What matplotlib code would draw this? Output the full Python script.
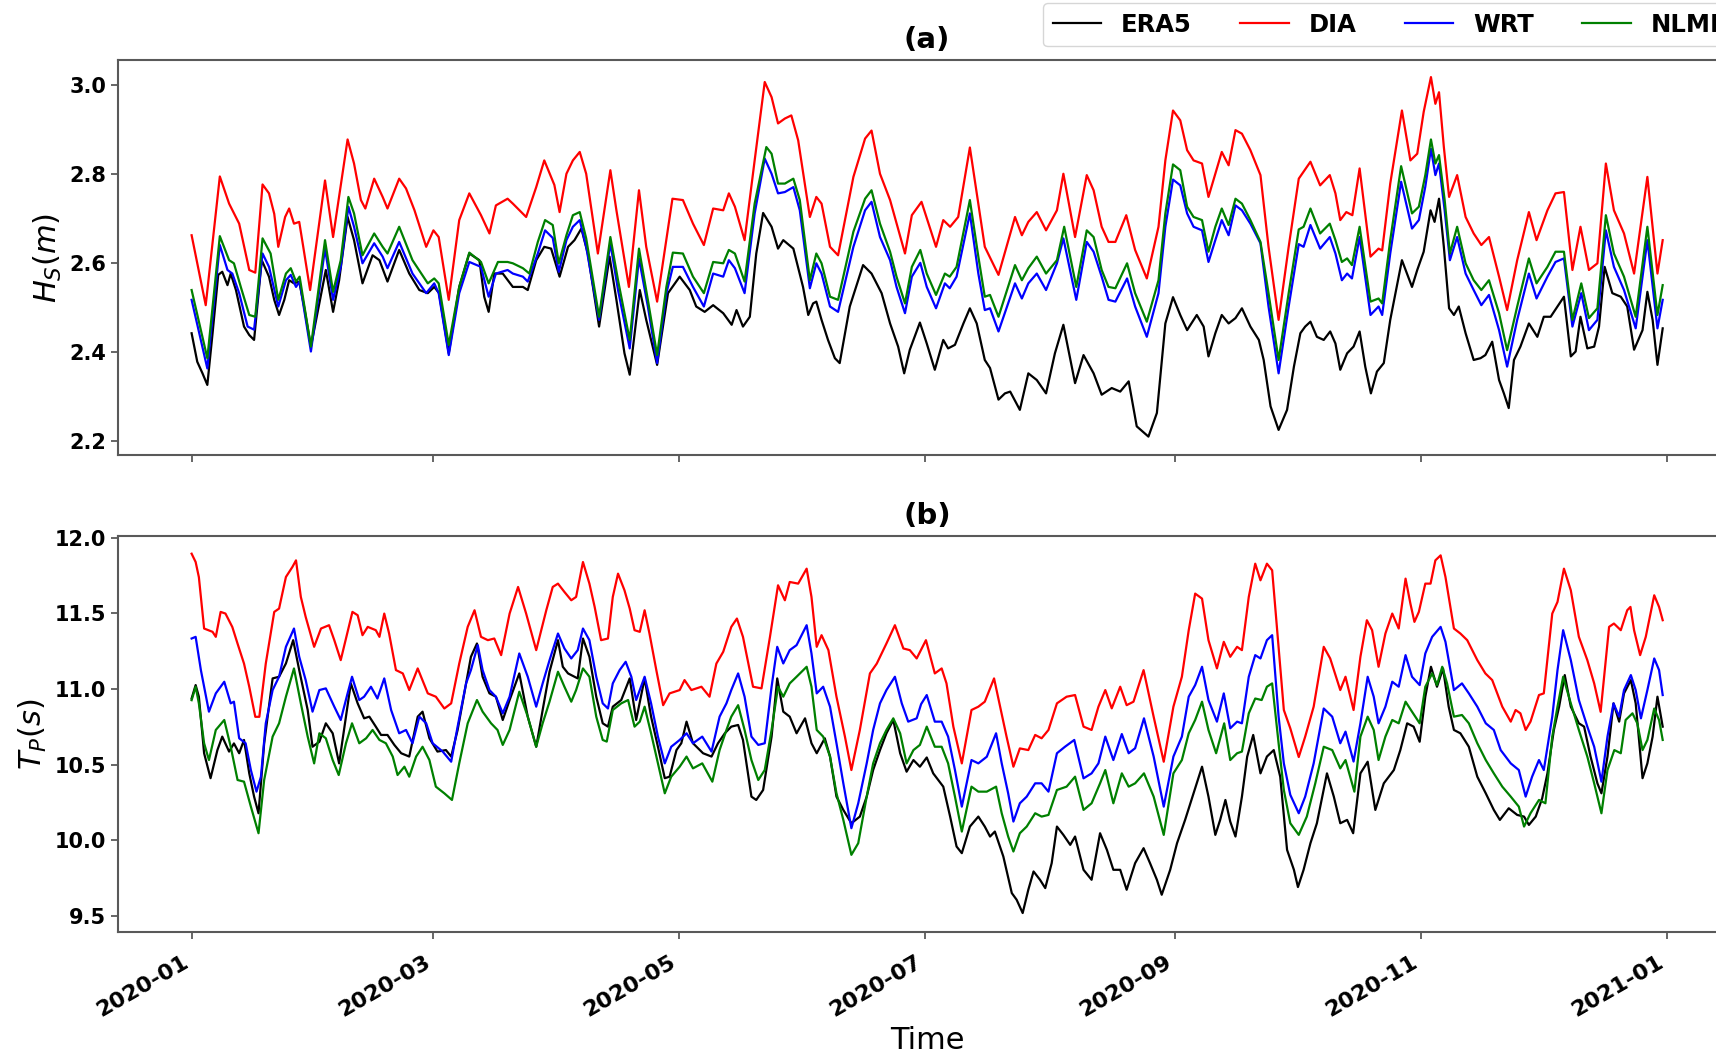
import matplotlib
matplotlib.use("Agg")
import matplotlib.pyplot as plt
import matplotlib.dates as mdates
import numpy as np
import pandas as pd

START = pd.Timestamp("2020-01-01")

# (day offset from 2020-01-01, value) pairs for each source

# significant wave height, m
hs_era5 = [
    (0, 2.442), (1.4, 2.378), (2.7, 2.352), (3.9, 2.326), (5.2, 2.442), (6.6, 2.573), (7.6, 2.58),
    (8.9, 2.55), (9.7, 2.576), (11, 2.539), (13, 2.457), (14.3, 2.438), (15.5, 2.427), (17.4, 2.606),
    (19.2, 2.569), (20.5, 2.517), (21.7, 2.483), (23, 2.517), (24.2, 2.561), (25.4, 2.554),
    (26.7, 2.558), (27.9, 2.502), (29.6, 2.412), (33.3, 2.584), (35.1, 2.49), (36.6, 2.561),
    (38.7, 2.703), (40.3, 2.651), (42.4, 2.554), (44.9, 2.617), (46.6, 2.606), (48.6, 2.558),
    (51.5, 2.629), (54, 2.576), (56.5, 2.539), (58.6, 2.532), (60.2, 2.546), (61.4, 2.532),
    (63.8, 2.397), (66.4, 2.546), (68.9, 2.621), (71.4, 2.606), (72.6, 2.524), (73.7, 2.49),
    (75.1, 2.576), (77.2, 2.576), (79.7, 2.546), (82.2, 2.546), (83.4, 2.539), (85.5, 2.606),
    (87.5, 2.636), (89.2, 2.632), (91.3, 2.569), (93.4, 2.636), (95, 2.651), (96.7, 2.677),
    (98.3, 2.621), (101.1, 2.457), (103.7, 2.614), (105.4, 2.517), (107.4, 2.397), (108.7, 2.349),
    (111.2, 2.539), (112.8, 2.472), (115.5, 2.371), (118.2, 2.532), (121.1, 2.569), (123.6, 2.539),
    (125.2, 2.502), (127.3, 2.49), (129.4, 2.505), (131.9, 2.487), (134, 2.461), (135.2, 2.494),
    (136.8, 2.457), (138.5, 2.479), (140.1, 2.621), (141.8, 2.712), (143.9, 2.681), (145.5, 2.632),
    (146.8, 2.651), (149.3, 2.632), (151.7, 2.546), (153, 2.483), (154.2, 2.509), (155, 2.513),
    (156.3, 2.472), (157.9, 2.427), (159.6, 2.386), (160.8, 2.375), (163.3, 2.502), (166.6, 2.595),
    (168.7, 2.576), (171.2, 2.532), (173.3, 2.464), (175.3, 2.412), (176.8, 2.352), (178.2, 2.405),
    (180.7, 2.466), (182.4, 2.419), (184.4, 2.36), (186.5, 2.427), (187.7, 2.408), (189.4, 2.416),
    (191.5, 2.464), (193.1, 2.498), (194.8, 2.464), (196.8, 2.382), (198.1, 2.364), (200.2, 2.293),
    (201.8, 2.307), (203.1, 2.311), (205.5, 2.27), (207.6, 2.352), (209.7, 2.337), (212, 2.307),
    (214.2, 2.397), (216.3, 2.461), (219.2, 2.33), (221.3, 2.393), (223.8, 2.352), (225.8, 2.304),
    (228.3, 2.319), (230.4, 2.311), (232.5, 2.334), (234.5, 2.233), (237.4, 2.21), (239.5, 2.263),
    (241.6, 2.464), (243.5, 2.523), (245.3, 2.483), (247, 2.449), (249.4, 2.483), (251.1, 2.457),
    (252.3, 2.39), (254, 2.442), (255.6, 2.483), (257.3, 2.464), (259, 2.476), (260.6, 2.498),
    (262.7, 2.457), (264.8, 2.427), (266, 2.382), (267.7, 2.278), (269.7, 2.225), (271.8, 2.27),
    (273.5, 2.367), (275.1, 2.442), (276.3, 2.457), (277.6, 2.468), (279.2, 2.434), (280.9, 2.427),
    (282.5, 2.446), (283.8, 2.419), (285, 2.36), (286.7, 2.397), (288.3, 2.412), (289.8, 2.446),
    (291.2, 2.367), (292.6, 2.307), (294.1, 2.356), (295.8, 2.375), (297.4, 2.472), (300.3, 2.606),
    (302.8, 2.546), (304.1, 2.584), (305.7, 2.625), (307.4, 2.718), (308.4, 2.692), (309.5, 2.744),
    (310.7, 2.636), (312, 2.498), (313.2, 2.483), (314.4, 2.502), (316.1, 2.442), (318.1, 2.382),
    (319.8, 2.386), (321, 2.393), (322.7, 2.423), (324.4, 2.337), (325.6, 2.307), (326.8, 2.274),
    (328.1, 2.382), (329.7, 2.412), (331.8, 2.464), (333.9, 2.434), (335.5, 2.479), (337.2, 2.479),
    (338.9, 2.502), (340.5, 2.524), (342.2, 2.39), (343.4, 2.401), (344.6, 2.479), (346.3, 2.408),
    (348, 2.412), (349.2, 2.457), (350.6, 2.591), (352.5, 2.532), (354.6, 2.524), (356.2, 2.502),
    (357.9, 2.405), (360, 2.449), (361.2, 2.535), (362.5, 2.472), (363.7, 2.371), (365, 2.453),
]

hs_dia = [
    (0, 2.662), (3.5, 2.505), (7, 2.794), (9.3, 2.733), (11.8, 2.688), (14.3, 2.584), (15.8, 2.578),
    (17.6, 2.776), (19.2, 2.756), (20.5, 2.71), (21.5, 2.636), (23.2, 2.703), (24.2, 2.722),
    (25.4, 2.688), (26.7, 2.692), (27.7, 2.636), (29.4, 2.539), (33.1, 2.785), (35.1, 2.658),
    (38.7, 2.877), (40.3, 2.823), (42, 2.741), (43.1, 2.722), (45.3, 2.789), (47.4, 2.748),
    (48.6, 2.722), (51.5, 2.789), (53.2, 2.767), (55.3, 2.718), (58.2, 2.636), (60, 2.673),
    (61.3, 2.658), (63.8, 2.517), (66.4, 2.696), (68.9, 2.756), (71.8, 2.707), (73.9, 2.666),
    (75.5, 2.729), (78.4, 2.744), (79.7, 2.733), (83, 2.703), (85.5, 2.77), (87.5, 2.83),
    (90, 2.775), (91.3, 2.714), (93, 2.8), (94.6, 2.83), (96.3, 2.849), (97.9, 2.8), (100.8, 2.621),
    (103.9, 2.808), (105.4, 2.718), (108.5, 2.546), (111, 2.763), (112.8, 2.636), (115.5, 2.513),
    (119.3, 2.744), (121.9, 2.741), (124.4, 2.688), (127.1, 2.64), (129.4, 2.722), (131.9, 2.718),
    (133.3, 2.756), (134.8, 2.726), (137.2, 2.651), (139.7, 2.83), (142.2, 3.006), (143.9, 2.972),
    (145.5, 2.913), (147.2, 2.924), (148.8, 2.931), (150.5, 2.875), (153.4, 2.703), (155, 2.748),
    (156.3, 2.733), (158.4, 2.636), (160.4, 2.617), (164.2, 2.793), (167.1, 2.879), (168.7, 2.897),
    (170.8, 2.8), (173.3, 2.741), (177, 2.621), (178.7, 2.707), (181.1, 2.737), (184.7, 2.636),
    (186.5, 2.696), (188.2, 2.681), (190.2, 2.703), (193.1, 2.859), (195.2, 2.733), (196.8, 2.636),
    (200.2, 2.573), (204.3, 2.703), (206, 2.662), (207.6, 2.692), (209.7, 2.714), (212, 2.673),
    (214.7, 2.718), (216.3, 2.8), (219.2, 2.658), (222.1, 2.797), (223.8, 2.763), (225.8, 2.681),
    (227.5, 2.647), (229.2, 2.647), (231.9, 2.707), (234.1, 2.629), (237, 2.565), (239.9, 2.681),
    (241.6, 2.83), (243.5, 2.942), (245.3, 2.92), (247, 2.853), (248.6, 2.83), (250.7, 2.823),
    (252.3, 2.748), (254, 2.8), (255.6, 2.849), (257.3, 2.819), (259, 2.898), (260.6, 2.89),
    (262.7, 2.853), (265.2, 2.797), (267.2, 2.636), (269.7, 2.472), (272.2, 2.636), (274.7, 2.789),
    (277.6, 2.827), (280, 2.774), (282.4, 2.797), (283.8, 2.756), (285, 2.696), (286.5, 2.714),
    (288, 2.707), (289.8, 2.812), (292.5, 2.614), (294.5, 2.632), (295.4, 2.628), (297.4, 2.778),
    (300.3, 2.942), (302.4, 2.83), (304.1, 2.845), (305.7, 2.939), (307.5, 3.017), (308.6, 2.957),
    (309.5, 2.983), (310.7, 2.86), (312, 2.748), (314, 2.797), (316.1, 2.703), (318.1, 2.666),
    (320, 2.64), (321.9, 2.658), (324.4, 2.569), (326.4, 2.494), (328.9, 2.606), (331.8, 2.714),
    (333.7, 2.651), (336.4, 2.718), (338.4, 2.756), (340.5, 2.759), (342.6, 2.584), (344.6, 2.681),
    (346.7, 2.584), (348.8, 2.599), (350.9, 2.823), (352.9, 2.718), (355.4, 2.666), (357.9, 2.576),
    (361.2, 2.793), (363.7, 2.576), (365, 2.651),
]

hs_wrt = [
    (0, 2.517), (3.9, 2.363), (7, 2.64), (8.9, 2.584), (10.1, 2.576), (11.8, 2.532), (13.9, 2.457),
    (15.5, 2.45), (17.6, 2.621), (19.2, 2.591), (21.5, 2.502), (23.4, 2.561), (24.6, 2.573),
    (25.9, 2.546), (26.8, 2.558), (29.6, 2.401), (33.1, 2.632), (35.1, 2.517), (37, 2.591),
    (38.9, 2.726), (40.3, 2.681), (42.4, 2.599), (45.3, 2.644), (47.4, 2.614), (48.6, 2.588),
    (51.5, 2.647), (54.8, 2.576), (58.2, 2.532), (60.2, 2.554), (61.3, 2.532), (63.8, 2.393),
    (66.4, 2.532), (68.9, 2.602), (71.8, 2.591), (73.7, 2.524), (75.5, 2.576), (78.4, 2.584),
    (79.7, 2.576), (82.2, 2.569), (83.4, 2.558), (85.9, 2.621), (87.7, 2.673), (89.6, 2.656),
    (91.1, 2.58), (93, 2.651), (94.6, 2.681), (96.3, 2.696), (97.9, 2.636), (101.1, 2.472),
    (103.9, 2.644), (105.8, 2.539), (108.7, 2.408), (111, 2.61), (113.2, 2.502), (115.5, 2.375),
    (117.8, 2.532), (119.4, 2.591), (121.9, 2.591), (124.4, 2.546), (127.1, 2.502), (129.4, 2.576),
    (131.9, 2.569), (133.3, 2.606), (134.8, 2.588), (137.2, 2.532), (139.7, 2.711), (142.2, 2.834),
    (143.9, 2.8), (145.5, 2.756), (147.2, 2.759), (149.3, 2.77), (150.9, 2.718), (153.4, 2.543),
    (155, 2.599), (156.3, 2.576), (158.4, 2.502), (160.4, 2.49), (164.2, 2.636), (167.1, 2.718),
    (168.7, 2.737), (170.8, 2.658), (173.3, 2.606), (174.9, 2.546), (177, 2.487), (178.7, 2.569),
    (180.8, 2.6), (182.4, 2.546), (184.7, 2.498), (186.9, 2.554), (188.1, 2.543), (189.8, 2.569),
    (193.1, 2.711), (195.2, 2.576), (196.8, 2.494), (198.1, 2.498), (200.2, 2.446), (204.3, 2.554),
    (206, 2.52), (207.6, 2.554), (209.7, 2.576), (212, 2.539), (214.7, 2.599), (216.3, 2.655),
    (219.5, 2.517), (222.1, 2.647), (223.8, 2.625), (225.8, 2.569), (227.5, 2.517), (229.2, 2.513),
    (232.1, 2.565), (234.1, 2.502), (237, 2.434), (239.9, 2.532), (241.6, 2.681), (243.5, 2.787),
    (245.3, 2.774), (247, 2.711), (248.6, 2.681), (250.7, 2.673), (252.3, 2.602), (254, 2.651),
    (255.6, 2.696), (257.3, 2.662), (259, 2.729), (260.6, 2.718), (262.7, 2.688), (265.2, 2.644),
    (267.2, 2.502), (269.7, 2.352), (272.2, 2.502), (274.7, 2.642), (275.9, 2.636), (277.6, 2.685),
    (280, 2.632), (282.4, 2.658), (283.8, 2.621), (285.4, 2.561), (286.7, 2.576), (287.9, 2.565),
    (289.8, 2.658), (292.5, 2.483), (294.5, 2.502), (295.4, 2.483), (297.4, 2.621), (300.1, 2.782),
    (302.8, 2.677), (304.5, 2.696), (306.1, 2.771), (307.5, 2.856), (308.6, 2.797), (309.5, 2.823),
    (310.9, 2.718), (312.2, 2.606), (314, 2.658), (316.1, 2.576), (318.1, 2.539), (320, 2.505),
    (321.9, 2.528), (324.4, 2.449), (326.4, 2.367), (328.9, 2.472), (331.8, 2.576), (333.7, 2.52),
    (336.4, 2.569), (338.4, 2.602), (340.5, 2.61), (342.6, 2.457), (344.8, 2.532), (346.7, 2.449),
    (348.8, 2.472), (350.9, 2.673), (352.9, 2.591), (355.4, 2.539), (358.3, 2.453), (361.2, 2.651),
    (363.7, 2.453), (365, 2.517),
]

hs_nlml = [
    (0, 2.539), (3.9, 2.386), (7, 2.66), (9.3, 2.606), (10.5, 2.599), (12.2, 2.546), (14.3, 2.483),
    (15.8, 2.479), (17.6, 2.655), (19.6, 2.621), (21.5, 2.517), (23.4, 2.576), (24.6, 2.588),
    (25.9, 2.558), (26.8, 2.569), (29.6, 2.412), (33.1, 2.651), (35.1, 2.535), (37, 2.606),
    (38.9, 2.748), (40.3, 2.711), (42.4, 2.617), (45.3, 2.666), (47.4, 2.636), (48.6, 2.621),
    (51.5, 2.681), (54.8, 2.606), (58.6, 2.554), (60.2, 2.565), (61.3, 2.554), (63.8, 2.416),
    (66.4, 2.546), (68.9, 2.623), (71.8, 2.602), (73.7, 2.554), (76, 2.602), (78.4, 2.602),
    (79.7, 2.599), (82.2, 2.588), (83.8, 2.576), (85.9, 2.647), (87.7, 2.696), (89.6, 2.685),
    (91.1, 2.599), (93, 2.662), (94.6, 2.707), (96.3, 2.714), (97.9, 2.655), (101.1, 2.479),
    (103.9, 2.658), (105.8, 2.561), (108.7, 2.427), (111, 2.632), (113.2, 2.517), (115.5, 2.393),
    (117.8, 2.546), (119.4, 2.623), (121.9, 2.621), (124.4, 2.569), (127.1, 2.532), (129.4, 2.602),
    (131.9, 2.599), (133.3, 2.629), (134.8, 2.621), (137.2, 2.558), (139.7, 2.733), (142.6, 2.86),
    (143.9, 2.845), (145.5, 2.778), (147.2, 2.778), (149.3, 2.789), (150.9, 2.741), (153.4, 2.561),
    (155, 2.621), (156.3, 2.599), (158.4, 2.524), (160.4, 2.517), (164.2, 2.67), (167.1, 2.744),
    (168.7, 2.763), (170.8, 2.688), (173.3, 2.625), (174.9, 2.569), (177, 2.509), (178.7, 2.591),
    (180.8, 2.629), (182.4, 2.576), (184.7, 2.528), (186.9, 2.576), (188.1, 2.569), (189.8, 2.591),
    (193.1, 2.741), (195.2, 2.614), (196.8, 2.524), (198.1, 2.528), (200.2, 2.479), (204.3, 2.595),
    (206, 2.561), (207.6, 2.588), (209.7, 2.614), (212, 2.576), (214.7, 2.606), (216.5, 2.681),
    (219.5, 2.546), (222.1, 2.673), (223.8, 2.658), (225.8, 2.584), (227.5, 2.546), (229.2, 2.543),
    (232.1, 2.599), (234.1, 2.532), (237, 2.468), (239.9, 2.561), (241.6, 2.711), (243.5, 2.821),
    (245.3, 2.808), (247, 2.726), (248.6, 2.703), (250.7, 2.696), (252.3, 2.625), (254, 2.681),
    (255.6, 2.722), (257.3, 2.685), (259, 2.744), (260.6, 2.733), (262.7, 2.696), (265.2, 2.647),
    (267.2, 2.532), (269.7, 2.382), (272.2, 2.532), (274.7, 2.675), (275.9, 2.681), (277.6, 2.722),
    (280, 2.666), (282.4, 2.688), (283.8, 2.651), (285.4, 2.602), (286.7, 2.61), (287.9, 2.595),
    (289.8, 2.681), (292.5, 2.513), (294.5, 2.52), (295.4, 2.509), (297.4, 2.651), (300.1, 2.817),
    (302.8, 2.711), (304.5, 2.726), (306.1, 2.797), (307.5, 2.877), (308.6, 2.823), (309.5, 2.842),
    (310.9, 2.741), (312.2, 2.621), (314, 2.681), (316.1, 2.599), (318.1, 2.561), (320, 2.539),
    (321.9, 2.561), (324.4, 2.487), (326.4, 2.404), (328.9, 2.502), (331.8, 2.61), (333.7, 2.554),
    (336.4, 2.591), (338.4, 2.625), (340.5, 2.625), (342.6, 2.472), (344.8, 2.554), (346.7, 2.476),
    (348.8, 2.498), (350.9, 2.707), (352.9, 2.621), (355.4, 2.569), (358.3, 2.479), (361.2, 2.681),
    (363.7, 2.483), (365, 2.55),
]

# peak wave period, s
tp_era5 = [
    (0, 10.937), (1, 11.026), (1.8, 10.949), (3.1, 10.575), (4.7, 10.41), (6.4, 10.596), (7.6, 10.685),
    (9.3, 10.586), (10.5, 10.64), (11.8, 10.575), (13, 10.663), (14.3, 10.442), (15.5, 10.288),
    (16.6, 10.178), (18, 10.64), (20.1, 11.07), (21.7, 11.081), (23.4, 11.169), (25.2, 11.323),
    (26.7, 11.125), (28.8, 10.861), (30, 10.618), (31.7, 10.651), (33.3, 10.773), (35, 10.707),
    (36.6, 10.508), (38.3, 10.817), (39.5, 11.037), (41.2, 10.905), (42.8, 10.806), (44.1, 10.817),
    (45.7, 10.751), (47, 10.696), (48.6, 10.696), (50.3, 10.63), (52, 10.575), (54, 10.553),
    (56.1, 10.817), (57.3, 10.85), (59, 10.674), (61, 10.586), (63.1, 10.596), (64.4, 10.553),
    (66, 10.729), (68.1, 11.037), (69.3, 11.213), (70.8, 11.301), (72.2, 11.081), (73.9, 10.971),
    (75.5, 10.949), (77.2, 10.795), (78.9, 10.927), (81.3, 11.103), (83.4, 10.817), (85.5, 10.618),
    (87.1, 10.861), (88.8, 11.114), (90.9, 11.323), (92.1, 11.147), (93.4, 11.103), (95, 11.081),
    (95.8, 11.07), (97.1, 11.334), (98.7, 11.213), (100.4, 10.949), (102, 10.773), (103.3, 10.751),
    (104.5, 10.883), (106.6, 10.927), (108.7, 11.07), (110.3, 10.795), (112.4, 11.07), (114, 10.817),
    (115.7, 10.618), (117.4, 10.41), (118.6, 10.42), (120.3, 10.596), (121.5, 10.641), (122.8, 10.784),
    (124.4, 10.641), (126.9, 10.575), (129, 10.553), (130.6, 10.641), (132.3, 10.707), (133.9, 10.751),
    (135.6, 10.762), (136.8, 10.663), (138.9, 10.288), (140.1, 10.266), (141.8, 10.332),
    (143.9, 10.685), (145.3, 11.07), (146.8, 10.85), (148.4, 10.817), (150.1, 10.707), (152.2, 10.806),
    (153.8, 10.641), (155.1, 10.575), (157.1, 10.674), (158.4, 10.553), (160, 10.288), (161.7, 10.2),
    (163.7, 10.112), (165.8, 10.156), (167.5, 10.288), (169.1, 10.464), (170.8, 10.596),
    (172.4, 10.707), (174.1, 10.795), (175.8, 10.575), (177.4, 10.453), (179.1, 10.53),
    (180.7, 10.486), (182.4, 10.547), (184, 10.442), (186.5, 10.354), (188.2, 10.156), (189.8, 9.958),
    (191.1, 9.914), (193.1, 10.09), (195.2, 10.156), (196.8, 10.09), (198.1, 10.024), (199.3, 10.057),
    (201.4, 9.892), (203.5, 9.65), (204.7, 9.606), (206.2, 9.518), (207.6, 9.672), (208.9, 9.793),
    (210.5, 9.738), (211.8, 9.683), (213.4, 9.848), (214.7, 10.09), (216.3, 10.035), (218, 9.969),
    (219.2, 10.024), (221.3, 9.804), (223.3, 9.738), (225.4, 10.046), (227.1, 9.936), (228.7, 9.804),
    (230.4, 9.804), (232, 9.672), (234.1, 9.848), (236.2, 9.947), (237.8, 9.848), (239.5, 9.738),
    (240.7, 9.639), (242.8, 9.804), (244.5, 9.98), (246.5, 10.134), (248.6, 10.31), (250.7, 10.486),
    (252.3, 10.288), (254, 10.035), (255.2, 10.134), (256.5, 10.266), (257.7, 10.123), (259, 10.024),
    (260.6, 10.288), (261.9, 10.552), (263.4, 10.696), (265.2, 10.442), (266.8, 10.553),
    (268.5, 10.596), (270.1, 10.42), (271.8, 9.936), (273.5, 9.804), (274.5, 9.69), (275.9, 9.804),
    (277.6, 9.98), (279.2, 10.112), (281.7, 10.442), (283.4, 10.288), (285, 10.112), (286.7, 10.134),
    (288.2, 10.046), (290, 10.442), (291.8, 10.519), (293.7, 10.2), (295.8, 10.376), (298.3, 10.464),
    (299.9, 10.596), (301.6, 10.773), (303.2, 10.751), (304.7, 10.651), (306.1, 10.949),
    (307.5, 11.147), (309, 11.015), (310.5, 11.136), (311.9, 10.883), (313.2, 10.729), (314.8, 10.707),
    (316.9, 10.618), (319, 10.42), (321.1, 10.31), (323.1, 10.2), (324.6, 10.134), (326.8, 10.211),
    (328.9, 10.167), (330.6, 10.156), (331.8, 10.101), (333.5, 10.156), (335.1, 10.277),
    (336.4, 10.442), (338, 10.729), (339.3, 10.883), (340.7, 11.092), (342.2, 10.883), (344.2, 10.773),
    (345.5, 10.751), (347.1, 10.553), (348.8, 10.376), (349.8, 10.31), (351.3, 10.553),
    (352.8, 10.905), (354.2, 10.784), (355.4, 10.971), (357.1, 11.059), (358.3, 10.905), (360, 10.41),
    (361.2, 10.508), (362.5, 10.685), (363.7, 10.949), (365, 10.751),
]

tp_dia = [
    (0, 11.895), (1, 11.84), (1.8, 11.74), (3.1, 11.40), (5.2, 11.378), (6, 11.345), (7.2, 11.51),
    (8.4, 11.499), (10.1, 11.41), (11.4, 11.30), (13, 11.168), (14.3, 11.015), (15.8, 10.816),
    (16.8, 10.816), (18.4, 11.168), (20.5, 11.51), (21.7, 11.532), (23.4, 11.741), (25, 11.807),
    (25.9, 11.851), (27.1, 11.609), (28.3, 11.477), (30.4, 11.279), (32.1, 11.40), (34.1, 11.422),
    (35.4, 11.323), (37, 11.191), (38.7, 11.378), (39.9, 11.51), (41.2, 11.488), (42.4, 11.356),
    (43.7, 11.411), (45.7, 11.389), (46.6, 11.345), (47.8, 11.499), (49, 11.367), (50.7, 11.125),
    (52.4, 11.103), (54, 10.993), (56.1, 11.136), (58.6, 10.971), (60.6, 10.949), (62.7, 10.871),
    (64.4, 10.905), (66.4, 11.168), (68.5, 11.411), (70.2, 11.521), (71.8, 11.345), (73.5, 11.323),
    (75.1, 11.334), (76.8, 11.224), (78.9, 11.499), (81, 11.675), (83, 11.499), (85.5, 11.257),
    (88, 11.521), (89.6, 11.675), (90.9, 11.697), (92.5, 11.642), (94.2, 11.587), (95.4, 11.609),
    (97.1, 11.84), (98.7, 11.697), (100, 11.543), (101.6, 11.323), (103.3, 11.334), (104.5, 11.609),
    (105.8, 11.763), (107.4, 11.653), (108.7, 11.532), (109.9, 11.389), (111.2, 11.378),
    (112.4, 11.521), (113.6, 11.367), (115.3, 11.125), (117, 10.893), (118.6, 10.971), (121.1, 10.993),
    (122.3, 11.059), (124, 10.993), (126.5, 11.015), (128.5, 10.949), (130.2, 11.168), (131.9, 11.246),
    (133.9, 11.411), (135.3, 11.466), (136.8, 11.345), (139.3, 11.015), (141.4, 11.004),
    (143.5, 11.345), (145.5, 11.686), (147.2, 11.587), (148.4, 11.708), (150.5, 11.697),
    (152.6, 11.796), (153.8, 11.609), (155.1, 11.279), (156.3, 11.356), (158, 11.257), (160, 10.949),
    (162.1, 10.685), (163.7, 10.464), (165.8, 10.729), (168.3, 11.103), (170, 11.168), (172.4, 11.301),
    (174.5, 11.422), (176.6, 11.268), (178.2, 11.257), (179.9, 11.202), (182.2, 11.323),
    (184.4, 11.103), (186.1, 11.136), (187.3, 11.037), (189, 10.751), (191.1, 10.508), (193.5, 10.861),
    (195.2, 10.883), (196.8, 10.916), (199.1, 11.07), (200.6, 10.883), (202.2, 10.685),
    (203.9, 10.486), (205.5, 10.607), (207.6, 10.596), (209.3, 10.696), (210.9, 10.674),
    (212.6, 10.729), (214.7, 10.905), (217.1, 10.949), (219.2, 10.96), (221.3, 10.751),
    (223.3, 10.729), (225, 10.883), (226.7, 10.993), (228.3, 10.872), (230.4, 11.015), (232, 10.893),
    (233.7, 10.916), (236.2, 11.125), (238.7, 10.816), (241.2, 10.519), (243.6, 10.883),
    (245.7, 11.081), (247.4, 11.389), (249, 11.631), (250.7, 11.598), (252.3, 11.323), (254.4, 11.136),
    (256.1, 11.312), (257.7, 11.213), (259.4, 11.279), (260.6, 11.257), (262.3, 11.609),
    (263.9, 11.829), (265.2, 11.719), (266.8, 11.829), (268.1, 11.785), (269.7, 11.279), (271, 10.861),
    (272.6, 10.74), (274.7, 10.55), (276.3, 10.685), (278.4, 10.883), (280.9, 11.279), (282.5, 11.202),
    (285, 10.993), (286.3, 11.081), (288.3, 10.861), (290, 11.213), (291.6, 11.455), (292.9, 11.389),
    (294.5, 11.147), (296.2, 11.367), (297.9, 11.499), (299.5, 11.40), (301.2, 11.73),
    (302.4, 11.565), (303.4, 11.444), (304.5, 11.51), (306.1, 11.697), (307.4, 11.697),
    (308.6, 11.851), (309.9, 11.884), (311.1, 11.741), (313.2, 11.40), (314.8, 11.367),
    (316.5, 11.323), (319, 11.191), (321, 11.103), (322.7, 11.059), (325.2, 10.883), (327.3, 10.784),
    (328.5, 10.861), (329.7, 10.839), (331, 10.729), (332.2, 10.784), (334.3, 10.96), (335.5, 10.971),
    (337.6, 11.499), (338.9, 11.576), (340.5, 11.796), (342.2, 11.653), (344.2, 11.345),
    (346.3, 11.191), (348, 11.037), (349.6, 10.849), (351.7, 11.411), (352.9, 11.433),
    (354.6, 11.389), (356.2, 11.521), (357, 11.543), (357.9, 11.389), (359.4, 11.224),
    (360.8, 11.345), (362.9, 11.62), (364.1, 11.543), (365, 11.455),
]

tp_wrt = [
    (0, 11.334), (1, 11.345), (2.3, 11.125), (4.3, 10.85), (6, 10.971), (8.1, 11.048), (9.7, 10.905),
    (10.5, 10.916), (11.8, 10.674), (13.4, 10.641), (14.7, 10.464), (16.1, 10.321), (17.2, 10.42),
    (18.4, 10.773), (20.1, 10.993), (21.7, 11.081), (23.4, 11.279), (25.4, 11.40), (26.7, 11.213),
    (28.3, 11.059), (30, 10.85), (31.7, 10.993), (33.3, 11.004), (35.4, 10.883), (37, 10.795),
    (38.7, 10.971), (39.8, 11.081), (41.6, 10.927), (42.8, 10.949), (44.5, 11.015), (46.1, 10.937),
    (47.8, 11.07), (49.5, 10.861), (51.5, 10.707), (53.2, 10.729), (54.8, 10.641), (56.5, 10.817),
    (58.2, 10.773), (59.8, 10.641), (62.3, 10.586), (64.4, 10.519), (66, 10.751), (68.1, 11.037),
    (69.3, 11.125), (71, 11.29), (72.2, 11.125), (73.9, 10.993), (75.5, 10.949), (77.2, 10.839),
    (78.9, 10.949), (81.3, 11.235), (83.4, 11.081), (85.5, 10.883), (87.1, 11.037), (88.8, 11.19),
    (90.9, 11.367), (92.5, 11.268), (94.2, 11.202), (95.8, 11.257), (97.1, 11.40), (98.7, 11.323),
    (100.4, 11.081), (102, 10.905), (103.3, 10.871), (104.5, 11.037), (106.2, 11.125), (107.7, 11.18),
    (109.1, 11.081), (110.3, 10.927), (112.4, 11.081), (114, 10.905), (115.7, 10.685), (117.4, 10.508),
    (119, 10.618), (121.1, 10.663), (122.8, 10.707), (124.4, 10.641), (126.7, 10.685), (129, 10.586),
    (131, 10.817), (132.7, 10.905), (133.9, 10.993), (135.6, 11.103), (137.2, 10.949), (138.9, 10.685),
    (140.6, 10.63), (142.2, 10.641), (143.9, 11.015), (145.3, 11.279), (146.8, 11.169),
    (148.4, 11.257), (150.1, 11.29), (152.6, 11.422), (153.8, 11.235), (155.1, 10.971),
    (156.7, 11.015), (158.4, 10.883), (160, 10.641), (161.7, 10.376), (163.7, 10.079), (165.4, 10.244),
    (167.5, 10.508), (169.1, 10.729), (170.8, 10.905), (172.4, 10.993), (174.5, 11.081),
    (176.2, 10.905), (177.8, 10.784), (179.9, 10.806), (181, 10.9), (182.4, 10.96), (184.4, 10.784),
    (186.1, 10.784), (187.7, 10.685), (189.4, 10.464), (191.1, 10.222), (193.5, 10.53), (195.2, 10.508),
    (197.3, 10.552), (199.6, 10.707), (201, 10.508), (202.6, 10.31), (203.9, 10.123), (205.5, 10.244),
    (207.2, 10.288), (209.3, 10.376), (210.9, 10.376), (212.6, 10.321), (214.7, 10.575),
    (216.7, 10.618), (219, 10.663), (221.3, 10.409), (223.3, 10.442), (225, 10.508), (226.7, 10.685),
    (228.7, 10.53), (230.8, 10.702), (232.5, 10.575), (234.1, 10.608), (236.3, 10.806),
    (238.7, 10.553), (241.2, 10.222), (243.6, 10.553), (245.7, 10.685), (247.4, 10.949),
    (249, 11.026), (250.7, 11.147), (252.3, 10.927), (254.4, 10.784), (256.1, 10.971), (257.7, 10.74),
    (259.4, 10.784), (260.6, 10.773), (262.3, 11.081), (263.9, 11.224), (265.2, 11.202),
    (266.8, 11.323), (268.1, 11.356), (269.7, 10.817), (271, 10.508), (272.6, 10.3), (274.7, 10.178),
    (276.3, 10.288), (278.4, 10.508), (280.9, 10.871), (283, 10.817), (285, 10.641), (286.3, 10.718),
    (288.3, 10.52), (290, 10.773), (291.8, 11.081), (293.3, 10.949), (294.5, 10.773), (296.2, 10.883),
    (297.9, 11.048), (299.5, 11.015), (301.2, 11.224), (302.8, 11.081), (304.7, 11.026),
    (306.1, 11.235), (307.8, 11.345), (309.9, 11.411), (311.1, 11.312), (313.2, 10.993),
    (315.2, 11.037), (316.9, 10.971), (319, 10.883), (321.1, 10.773), (323.1, 10.729), (324.8, 10.596),
    (327.3, 10.508), (329.3, 10.464), (331, 10.288), (332.6, 10.42), (334.3, 10.53), (335.5, 10.464),
    (337.6, 10.817), (338.9, 11.125), (340.3, 11.389), (342.2, 11.191), (344.2, 10.927),
    (346.3, 10.751), (348, 10.618), (349.8, 10.387), (351.3, 10.685), (352.8, 10.905), (354.2, 10.817),
    (355.4, 10.993), (357.1, 11.092), (358.3, 10.993), (359.6, 10.806), (361.2, 10.993),
    (362.9, 11.202), (364.1, 11.125), (365, 10.96),
]

tp_nlml = [
    (0, 10.926), (1, 11.015), (1.8, 10.905), (3.1, 10.641), (4.3, 10.53), (6, 10.729), (8.1, 10.795),
    (9.7, 10.618), (11.4, 10.398), (13, 10.387), (14.7, 10.222), (16.6, 10.046), (18, 10.398),
    (20.1, 10.685), (21.7, 10.773), (23.4, 10.949), (25.4, 11.136), (27.1, 10.905), (28.8, 10.685),
    (30.4, 10.508), (31.7, 10.707), (33.3, 10.674), (35, 10.53), (36.5, 10.431), (38.3, 10.641),
    (39.8, 10.773), (41.6, 10.641), (43.3, 10.674), (44.9, 10.729), (46.6, 10.663), (48.2, 10.641),
    (49.9, 10.553), (51.1, 10.431), (52.8, 10.486), (54, 10.42), (55.7, 10.553), (57.3, 10.618),
    (59, 10.53), (60.6, 10.354), (62.7, 10.31), (64.6, 10.266), (66.4, 10.508), (68.5, 10.773),
    (70.8, 10.927), (72.2, 10.85), (74.3, 10.773), (75.9, 10.729), (77.2, 10.63), (78.9, 10.729),
    (81.3, 10.982), (83.4, 10.817), (85.5, 10.618), (87.1, 10.773), (88.8, 10.916), (90.9, 11.114),
    (92.5, 11.015), (94.2, 10.916), (95.4, 10.993), (97.1, 11.136), (98.7, 11.081), (100.4, 10.817),
    (102, 10.663), (103, 10.652), (104.5, 10.861), (106.6, 10.905), (108.3, 10.927), (109.9, 10.751),
    (111.2, 10.784), (112.4, 10.883), (114, 10.707), (115.7, 10.508), (117.4, 10.31), (119, 10.42),
    (121.1, 10.486), (122.8, 10.553), (124.4, 10.475), (126.7, 10.508), (129.2, 10.387), (131, 10.596),
    (132.7, 10.729), (133.9, 10.817), (135.6, 10.893), (137.2, 10.729), (138.9, 10.53), (140.6, 10.398),
    (142.2, 10.464), (143.9, 10.729), (145.5, 11.015), (146.8, 10.949), (148.4, 11.037),
    (150.1, 11.081), (152.6, 11.147), (153.8, 11.015), (155.1, 10.729), (156.7, 10.685),
    (158.4, 10.553), (160, 10.31), (161.7, 10.134), (163.7, 9.903), (165.4, 9.98), (167.5, 10.288),
    (169.1, 10.508), (170.8, 10.641), (172.4, 10.729), (174.1, 10.806), (175.8, 10.707),
    (177.4, 10.508), (179.1, 10.596), (180.7, 10.63), (182.4, 10.751), (184.4, 10.618), (186.1, 10.618),
    (187.7, 10.508), (189.4, 10.288), (191.1, 10.057), (193.5, 10.354), (195.2, 10.321),
    (197.3, 10.321), (199.6, 10.354), (201, 10.178), (202.6, 10.024), (203.9, 9.925), (205.5, 10.046),
    (207.2, 10.09), (209.3, 10.178), (210.9, 10.156), (212.6, 10.167), (214.7, 10.332),
    (217.1, 10.354), (219.2, 10.42), (221.3, 10.2), (223.3, 10.244), (225.4, 10.376), (226.7, 10.464),
    (228.7, 10.244), (230.8, 10.442), (232.5, 10.354), (234.1, 10.376), (236.3, 10.442),
    (238.7, 10.288), (241.2, 10.035), (243.6, 10.442), (245.7, 10.53), (247.4, 10.707), (249, 10.795),
    (250.7, 10.916), (252.3, 10.729), (254.2, 10.575), (256.2, 10.773), (257.7, 10.53), (259.4, 10.575),
    (260.6, 10.586), (262.3, 10.839), (263.9, 10.937), (265.5, 10.927), (266.8, 11.015),
    (268.1, 11.037), (269.7, 10.641), (271, 10.332), (272.6, 10.112), (274.7, 10.035), (276.7, 10.156),
    (278.8, 10.376), (280.9, 10.618), (283, 10.596), (285, 10.475), (286.3, 10.53), (288.5, 10.321),
    (290, 10.685), (291.8, 10.817), (293.3, 10.729), (294.5, 10.53), (296.2, 10.685), (297.9, 10.795),
    (299.5, 10.773), (301.2, 10.916), (302.8, 10.85), (304.7, 10.773), (306.1, 11.015),
    (307.8, 11.103), (309, 11.026), (310.3, 11.147), (311.5, 11.037), (313.2, 10.817), (315.2, 10.828),
    (316.9, 10.773), (319, 10.641), (321.1, 10.53), (323.1, 10.442), (325.2, 10.354), (327.3, 10.288),
    (329.3, 10.222), (330.6, 10.09), (332.2, 10.178), (334.3, 10.266), (335.9, 10.244),
    (337.6, 10.685), (338.9, 10.883), (340.3, 11.081), (342.2, 10.905), (344.2, 10.729),
    (346.3, 10.553), (348, 10.376), (349.8, 10.178), (351.3, 10.464), (353, 10.596), (354.6, 10.575),
    (355.8, 10.795), (357.5, 10.839), (358.7, 10.773), (360, 10.596), (361.2, 10.663),
    (362.9, 10.871), (364.1, 10.795), (365, 10.663),
]

names = ["ERA5", "DIA", "WRT", "NLML"]
colors = ["black", "red", "blue", "green"]


def as_series(pairs):
    days, vals = np.array(pairs).T
    return START + pd.to_timedelta(days, unit="D"), vals


plt.rcParams["font.family"] = "DejaVu Sans"

fig = plt.figure(figsize=(17.16, 10.52), dpi=100)
ax1 = fig.add_axes([0.0688, 0.5672, 0.943, 0.3756])
ax2 = fig.add_axes([0.0688, 0.1137, 0.943, 0.3765], sharex=ax1)

for name, color, data in zip(names, colors, [hs_era5, hs_dia, hs_wrt, hs_nlml]):
    t, v = as_series(data)
    ax1.plot(t, v, color=color, lw=1.6, label=name)

for name, color, data in zip(names, colors, [tp_era5, tp_dia, tp_wrt, tp_nlml]):
    t, v = as_series(data)
    ax2.plot(t, v, color=color, lw=1.6, label=name)

ax1.set_xlim(START - pd.Timedelta(days=18.25), START + pd.Timedelta(days=383.25))
ax1.set_ylim(2.168, 3.055)
ax2.set_ylim(9.39, 12.01)
ax1.set_yticks(np.arange(2.2, 3.01, 0.2))
ax2.set_yticks(np.arange(9.5, 12.01, 0.5))

ax2.xaxis.set_major_locator(mdates.MonthLocator(bymonth=[1, 3, 5, 7, 9, 11]))
ax2.xaxis.set_major_formatter(mdates.DateFormatter("%Y-%m"))
ax1.tick_params(labelbottom=False)

for ax in (ax1, ax2):
    ax.tick_params(axis="y", labelsize=15, length=5, width=1.2, color="0.3")
    ax.tick_params(axis="x", labelsize=16, length=5, width=1.2, color="0.3", pad=9)
    for s in ax.spines.values():
        s.set_color("0.35")
        s.set_linewidth(1.5)
    plt.setp(ax.get_yticklabels(), fontweight="bold")

plt.setp(ax2.get_xticklabels(), fontweight="bold", rotation=30, ha="right")

ax1.set_title("(a)", fontsize=21, fontweight="bold", pad=9)
ax2.set_title("(b)", fontsize=21, fontweight="bold", pad=9)
ax1.set_ylabel("$H_S(m)$", fontsize=22)
ax2.set_ylabel("$T_P(s)$", fontsize=22)
ax2.set_xlabel("Time", fontsize=22)

fig.legend(*ax1.get_legend_handles_labels(), loc="upper left",
           bbox_to_anchor=(1043 / 1716, 1 - 3 / 1052), ncol=4,
           prop={"weight": "bold", "size": 17.5}, borderaxespad=0)

fig.savefig("out.png", dpi=100)
